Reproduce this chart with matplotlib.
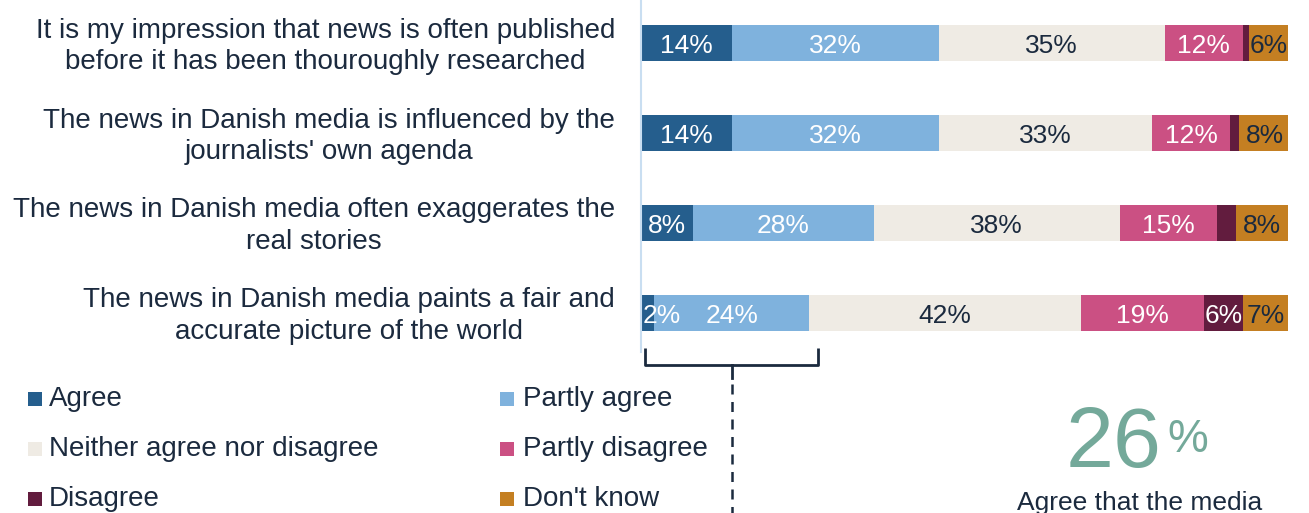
import matplotlib.pyplot as plt
from matplotlib.patches import Rectangle
from matplotlib.lines import Line2D
import matplotlib.transforms as mtransforms

plt.rcParams['font.family'] = ['Liberation Sans', 'DejaVu Sans']

# ---- data -------------------------------------------------------------
statements = [
    "It is my impression that news is often published\nbefore it has been thouroughly researched",
    "The news in Danish media is influenced by the\njournalists' own agenda",
    "The news in Danish media often exaggerates the\nreal stories",
    "The news in Danish media paints a fair and\naccurate picture of the world",
]
responses = ["Agree", "Partly agree", "Neither agree nor disagree",
             "Partly disagree", "Disagree", "Don't know"]
agree = [14, 14, 8, 2]
partly_agree = [32, 32, 28, 24]
neither = [35, 33, 38, 42]
partly_disagree = [12, 12, 15, 19]
disagree = [1, 1.5, 3, 6]
dont_know = [6, 8, 8, 7]

series = [agree, partly_agree, neither, partly_disagree, disagree, dont_know]

# ---- style ------------------------------------------------------------
colors = ["#255E8D", "#7FB2DD", "#EFEBE4", "#CB5083", "#621C3E", "#C47F22"]
label_colors = ["white", "white", "#1B2A3E", "white", "white", "#1B2A3E"]
navy = "#1B2A3E"
accent = "#74A99A"
fs = 20
fs_bar = 19
px = 72 / 100  # one pixel in points

W, H = 1309, 513
fig = plt.figure(figsize=(W / 100, H / 100), dpi=100)


def fx(p):
    return p / W


def fy(p):
    return 1 - p / H


ax = fig.add_axes([fx(641), fy(352), fx(647), 352 / H])
ax.set_xlim(0, 100)
ax.set_ylim(3.433, -0.483)

ypos = list(range(len(statements)))
left = [0.0] * len(statements)
for vals, col, tcol in zip(series, colors, label_colors):
    ax.barh(ypos, vals, left=left, height=0.4, color=col, edgecolor='none')
    for i, v in enumerate(vals):
        if v >= 2 and not (vals is disagree and v < 5):
            if v < 4:
                xy, ha = (left[i] + 0.3, i), 'left'
            else:
                xy, ha = (left[i] + v / 2, i), 'center'
            ax.annotate(f"{v:g}%", xy=xy, xytext=(0, -9.5 * px), textcoords='offset points',
                        ha=ha, va='baseline', color=tcol, fontsize=fs_bar)
    left = [l + v for l, v in zip(left, vals)]

lbl_tr = mtransforms.blended_transform_factory(ax.transAxes, ax.transData)
for i, s in enumerate(statements):
    ax.annotate(s, xy=(0, i), xycoords=lbl_tr, xytext=(-26 * px, -3 * px),
                textcoords='offset points', ha='right', va='center',
                multialignment='center', color=navy, fontsize=fs, linespacing=1.27)

for side in ['top', 'right', 'bottom']:
    ax.spines[side].set_visible(False)
ax.spines['left'].set_color('#C9DEF1')
ax.spines['left'].set_linewidth(1.5)
ax.set_xticks([])
ax.set_yticks([])

# ---- bracket over the combined agree share of the last statement -------
share = agree[-1] + partly_agree[-1]
bt = mtransforms.blended_transform_factory(ax.transData, fig.transFigure)
x0, x1 = 0.6, share + 1.4
xc = (x0 + x1) / 2
br = Line2D([x0, x0, x1, x1], [fy(348), fy(365), fy(365), fy(348)], transform=bt,
            color=navy, lw=2, solid_joinstyle='round', solid_capstyle='butt')
notch = Line2D([xc, xc], [fy(365), fy(378)], transform=bt, color=navy, lw=2)
dash = Line2D([xc, xc], [fy(384), fy(515)], transform=bt, color=navy, lw=1.8,
              linestyle=(0, (4, 3)))
for ln in (br, notch, dash):
    ln.set_clip_on(False)
    fig.add_artist(ln)

# ---- legend -----------------------------------------------------------
leg_cols = [(28, 49), (500, 523)]
leg_rows = [399, 449, 499]
for k, (name, col) in enumerate(zip(responses, colors)):
    r, c = divmod(k, 2)
    sx, tx = leg_cols[c]
    cy = leg_rows[r]
    fig.add_artist(Rectangle((fx(sx), fy(cy + 7)), 14 / W, 14 / H,
                             transform=fig.transFigure, color=col, lw=0))
    fig.text(fx(tx), fy(cy), name, ha='left', va='center', color=navy, fontsize=fs)

# ---- highlighted figure ------------------------------------------------
fig.text(fx(1114), fy(467), f"{share}", ha='center', va='baseline', color=accent, fontsize=62)
fig.text(fx(1167), fy(452), "%", ha='left', va='baseline', color=accent, fontsize=33)
fig.text(fx(1140), fy(491), "Agree that the media", ha='center', va='top', color=navy, fontsize=fs_bar)

fig.savefig("out.png", dpi=100)
